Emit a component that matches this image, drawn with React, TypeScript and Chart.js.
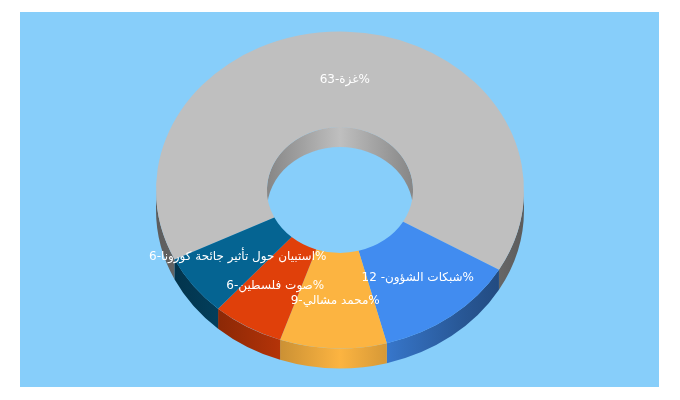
import { useEffect, useRef } from "react";
import Chart from "chart.js/auto";

const categories = [
  "63-غزة%",
  "12 -شبكات الشؤون%",
  "9-محمد مشالي%",
  "6-صوت فلسطين%",
  "6-استبيان حول تأثير جائحة كورونا%",
];
const values = [63, 12, 9, 6, 6];
const colors = ["#BFBFBF", "#418CF0", "#FCB441", "#E0400A", "#056492"];

// 3d look of the ring
const squash = 0.861;
const depth = 20;
const centerY = 190;
const outerWallLight = [0.48, 0.62, 0.8, 1, 0.8, 0.62, 0.48];
const innerWallLight = [0.7, 0.85, 1, 0.85, 0.7];

function shade(hex: string, k: number) {
  const n = parseInt(hex.slice(1), 16);
  const r = Math.round(((n >> 16) & 255) * k);
  const g = Math.round(((n >> 8) & 255) * k);
  const b = Math.round((n & 255) * k);
  return `rgb(${r},${g},${b})`;
}

function wallGradient(ctx: CanvasRenderingContext2D, x: number, r: number, hex: string, light: number[]) {
  const g = ctx.createLinearGradient(x - r, 0, x + r, 0);
  light.forEach((k, i) => g.addColorStop(i / (light.length - 1), shade(hex, k)));
  return g;
}

// fills the wall between from..to (canvas angles), on the given radius
function wall(ctx: CanvasRenderingContext2D, x: number, r: number, from: number, to: number, fill: CanvasGradient) {
  if (to <= from) return;
  ctx.beginPath();
  ctx.ellipse(x, centerY, r, r * squash, 0, from, to);
  ctx.ellipse(x, centerY + depth, r, r * squash, 0, to, from, true);
  ctx.closePath();
  ctx.fillStyle = fill;
  ctx.fill();
}

const ring3d = {
  id: "ring3d",
  beforeDatasetsDraw(chart: any) {
    const ctx = chart.ctx;
    const arcs = chart.getDatasetMeta(0).data;
    const { x, y } = arcs[0];

    ctx.save();
    arcs.forEach((arc: any, i: number) => {
      const a = arc.startAngle;
      const b = arc.endAngle;
      const tau = Math.PI * 2;
      // outer wall shows on the lower half, inner wall on the upper half
      for (const k of [-1, 0, 1]) {
        wall(ctx, x, arc.outerRadius, Math.max(a, k * tau), Math.min(b, k * tau + Math.PI),
          wallGradient(ctx, x, arc.outerRadius, colors[i], outerWallLight));
        wall(ctx, x, arc.innerRadius, Math.max(a, k * tau - Math.PI), Math.min(b, k * tau),
          wallGradient(ctx, x, arc.innerRadius, colors[i], innerWallLight));
      }
    });
    ctx.restore();

    ctx.save();
    ctx.translate(x, centerY);
    ctx.scale(1, squash);
    ctx.translate(-x, -y);
  },
  afterDatasetsDraw(chart: any) {
    const ctx = chart.ctx;
    ctx.restore();

    ctx.save();
    ctx.font = "12px 'DejaVu Sans'";
    ctx.fillStyle = "#ffffff";
    ctx.textAlign = "center";
    ctx.textBaseline = "middle";
    ctx.direction = "ltr";
    chart.getDatasetMeta(0).data.forEach((arc: any, i: number) => {
      const mid = (arc.startAngle + arc.endAngle) / 2;
      const r = (arc.innerRadius + arc.outerRadius) / 2;
      ctx.fillText(categories[i], arc.x + r * Math.cos(mid), centerY + r * squash * Math.sin(mid));
    });
    ctx.restore();
  },
};

export default function App() {
  const canvasRef = useRef<HTMLCanvasElement | null>(null);

  useEffect(() => {
    if (!canvasRef.current) return;
    const c = new Chart(canvasRef.current, {
      type: "doughnut",
      data: {
        labels: categories,
        datasets: [{ data: values, backgroundColor: colors, borderWidth: 0 }],
      },
      options: {
        responsive: false,
        animation: false,
        rotation: -116,
        radius: 184,
        cutout: "39.7%",
        plugins: { legend: { display: false }, tooltip: { enabled: false } },
      },
      plugins: [ring3d],
    });
    return () => c.destroy();
  }, []);

  return (
    <div style={{ position: "absolute", left: 0, top: 0, width: 680, height: 400, background: "#fff" }}>
      <div style={{ position: "absolute", left: 20, top: 12, width: 639, height: 375, background: "#87CEFA" }} />
      <canvas ref={canvasRef} width={680} height={400} style={{ position: "absolute", left: 0, top: 0 }} />
    </div>
  );
}
